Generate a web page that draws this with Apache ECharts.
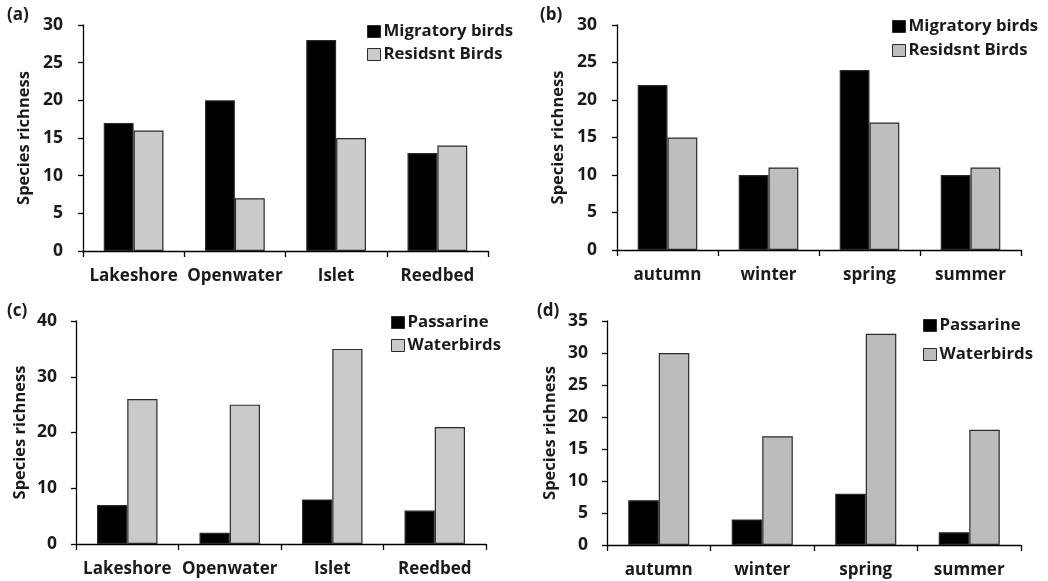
<!DOCTYPE html>
<html>
<head>
<meta charset="utf-8">
<script src="https://cdn.jsdelivr.net/npm/echarts@6/dist/echarts.min.js"></script>
<style>
  html, body { margin: 0; padding: 0; background: #fff; }
  #chart { width: 1048px; height: 581px; }
</style>
</head>
<body>
<div id="chart"></div>
<script>
// Categories
const habitats = ['Lakeshore', 'Openwater', 'Islet', 'Reedbed'];
const seasons = ['autumn', 'winter', 'spring', 'summer'];

// Series names
const statusNames = ['Migratory birds', 'Residsnt Birds'];
const groupNames = ['Passarine', 'Waterbirds'];

// (a) migratory vs resident by habitat
const aMigratory = [17, 20, 28, 13];
const aResident = [16, 7, 15, 14];
// (b) migratory vs resident by season
const bMigratory = [22, 10, 24, 10];
const bResident = [15, 11, 17, 11];
// (c) passerine vs waterbirds by habitat
const cPassarine = [7, 2, 8, 6];
const cWaterbirds = [26, 25, 35, 21];
// (d) passerine vs waterbirds by season
const dPassarine = [7, 4, 8, 2];
const dWaterbirds = [30, 17, 33, 18];

// Y-axis ranges
const yRanges = [
  { max: 30, interval: 5 },
  { max: 30, interval: 5 },
  { max: 40, interval: 10 },
  { max: 35, interval: 5 }
];

const FONT = '"Open Sans", "DejaVu Sans", sans-serif';
const TXT = '#1a1a1a';
const BORDER = '#2b2b2b';
const greys = ['#cbcbcb', '#bebebe', '#cacaca', '#bcbcbc'];

const grids = [
  { left: 83, top: 25, width: 405, height: 226 },
  { left: 617, top: 25, width: 404, height: 225 },
  { left: 76, top: 321, width: 410, height: 223 },
  { left: 607, top: 321, width: 414, height: 224 }
];

const cats = [habitats, seasons, habitats, seasons];
const names = [statusNames, statusNames, groupNames, groupNames];
const values = [
  [aMigratory, aResident],
  [bMigratory, bResident],
  [cPassarine, cWaterbirds],
  [dPassarine, dWaterbirds]
];
const nameGaps = [50, 50, 47, 48];
const labelMargins = [20, 20, 19, 19];

const legendPos = [
  { left: 367, top: 23, itemGap: 6 },
  { left: 892, top: 18, itemGap: 7 },
  { left: 391, top: 314, itemGap: 6 },
  { left: 923, top: 317, itemGap: 12 }
];

const panelTags = [
  { text: '(a)', x: 7, y: 7 },
  { text: '(b)', x: 540, y: 7 },
  { text: '(c)', x: 7, y: 303 },
  { text: '(d)', x: 537, y: 303 }
];

const xAxes = [], yAxes = [], series = [], legends = [];
for (let i = 0; i < 4; i++) {
  xAxes.push({
    type: 'category',
    gridIndex: i,
    data: cats[i],
    axisLine: { show: true, lineStyle: { color: '#000', width: 1.3 } },
    axisTick: { show: true, length: 6, interval: 0, lineStyle: { color: '#000', width: 1.3 } },
    axisLabel: { interval: 0, margin: 17, color: TXT, fontFamily: FONT, fontWeight: 'bold', fontSize: 17 }
  });
  yAxes.push({
    type: 'value',
    gridIndex: i,
    min: 0,
    max: yRanges[i].max,
    interval: yRanges[i].interval,
    name: 'Species richness',
    nameLocation: 'middle',
    nameGap: nameGaps[i],
    nameTextStyle: { color: TXT, fontFamily: FONT, fontWeight: 'bold', fontSize: 16.5 },
    splitLine: { show: false },
    axisLine: { show: true, lineStyle: { color: '#000', width: 1.3 } },
    axisTick: { show: true, length: 5, lineStyle: { color: '#000', width: 1.3 } },
    axisLabel: { margin: labelMargins[i], color: TXT, fontFamily: FONT, fontWeight: 'bold', fontSize: 17.5 }
  });
  const cols = ['#000000', greys[i]];
  for (let s = 0; s < 2; s++) {
    series.push({
      type: 'bar',
      name: names[i][s],
      xAxisIndex: i,
      yAxisIndex: i,
      data: values[i][s],
      barGap: '0%',
      barCategoryGap: '41%',
      itemStyle: { color: cols[s], borderColor: BORDER, borderWidth: 1.2 },
      emphasis: { disabled: true }
    });
  }
  legends.push({
    orient: 'vertical',
    left: legendPos[i].left,
    top: legendPos[i].top,
    padding: 0,
    itemGap: legendPos[i].itemGap,
    itemWidth: 13,
    itemHeight: 12,
    icon: 'rect',
    selectedMode: false,
    textStyle: { color: TXT, fontFamily: FONT, fontWeight: 'bold', fontSize: 16.8, padding: [0, 0, 0, -2] },
    data: names[i].map((n, s) => ({
      name: n,
      itemStyle: { color: cols[s], borderColor: BORDER, borderWidth: 1 }
    }))
  });
}

const chart = echarts.init(document.getElementById('chart'), null, { renderer: 'canvas' });
chart.setOption({
  backgroundColor: '#ffffff',
  animation: false,
  grid: grids,
  xAxis: xAxes,
  yAxis: yAxes,
  legend: legends,
  series: series,
  graphic: panelTags.map(t => ({
    type: 'text',
    left: t.x,
    top: t.y,
    style: { text: t.text, fill: TXT, font: 'bold 17px ' + FONT }
  }))
});
</script>
</body>
</html>
